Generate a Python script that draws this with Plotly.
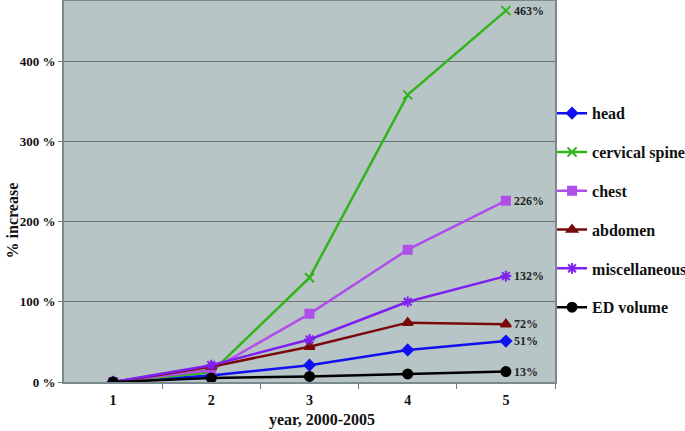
import plotly.graph_objects as go

years = [1, 2, 3, 4, 5]
year_labels = ["1", "2", "3", "4", "5"]
head = [0, 8, 21, 40, 51]
cervical_spine = [0, 12, 130, 358, 463]
chest = [0, 15, 85, 165, 226]
abdomen = [0, 19, 44, 74, 72]
miscellaneous = [0, 21, 53, 100, 132]
ed_volume = [0, 5, 7, 10, 13]
end_labels = ["51%", "463%", "226%", "72%", "132%", "13%"]

SERIF = "Liberation Serif, Times New Roman, serif"

series = [
    ("head", head, "#1010f0", "diamond", 8),
    ("cervical spine", cervical_spine, "#33b41a", "x-thin-open", 9),
    ("chest", chest, "#b04fe8", "square", 8),
    ("abdomen", abdomen, "#7a0a0a", "triangle-up", 9),
    ("miscellaneous", miscellaneous, "#8020f0", "asterisk-open", 9),
    ("ED volume", ed_volume, "#000000", "circle", 9),
]

fig = go.Figure()
for i, (name, vals, color, sym, sz) in enumerate(series):
    fig.add_trace(go.Scatter(
        x=years, y=vals, name="<b>" + name + "</b>", mode="lines+markers",
        line=dict(color=color, width=2.5),
        marker=dict(symbol=sym, size=sz, color=color,
                    line=dict(color=color, width=2)),
        legendgroup=name,
    ))
    fig.add_annotation(x=years[-1], y=vals[-1], text="<b>" + end_labels[i] + "</b>",
                       showarrow=False, xanchor="left", xshift=6,
                       font=dict(family=SERIF, size=12, color="#222"))

# axis titles (placed as in the reference, slightly off-center)
fig.add_annotation(text="<b>year, 2000-2005</b>", xref="paper", yref="paper",
                   x=0.525, y=0, xanchor="center", yanchor="top", yshift=-27,
                   showarrow=False, font=dict(family=SERIF, size=16, color="#111"))
fig.add_annotation(text="<b>% increase</b>", xref="paper", yref="paper",
                   x=0, y=0.424, xanchor="center", yanchor="middle", xshift=-52,
                   textangle=-90, showarrow=False,
                   font=dict(family=SERIF, size=16, color="#111"))

fig.update_layout(
    width=685, height=431,
    margin=dict(l=64, r=130, t=1, b=49, autoexpand=False),
    paper_bgcolor="white",
    plot_bgcolor="#b7c5c7",
    font=dict(family=SERIF, color="#111"),
    showlegend=True,
    legend=dict(x=0.994, y=0.75, xanchor="left", yanchor="top",
                font=dict(family=SERIF, size=16, color="#111"),
                tracegroupgap=15, itemwidth=30, bgcolor="rgba(0,0,0,0)"),
)
fig.update_xaxes(
    range=[0.5, 5.5], tickvals=years,
    ticktext=["<b>" + t + "</b>" for t in year_labels],
    ticks="", showgrid=False, automargin=False, ticklabelstandoff=4,
    minor=dict(tickvals=[1.5, 2.5, 3.5, 4.5, 5.5], ticks="outside", ticklen=5,
               tickcolor="#777", showgrid=False),
    showline=True, linecolor="#7a8a8c", linewidth=2, mirror=True,
    tickfont=dict(family=SERIF, size=14, color="#111"),
)
fig.update_yaxes(
    range=[0, 475], tickvals=[0, 100, 200, 300, 400],
    ticktext=["<b>0 %</b>", "<b>100 %</b>", "<b>200 %</b>", "<b>300 %</b>", "<b>400 %</b>"],
    ticks="outside", ticklen=4, tickcolor="#777", automargin=False,
    showgrid=True, gridcolor="#6e7273", gridwidth=1, zeroline=False,
    showline=True, linecolor="#7a8a8c", linewidth=2, mirror=True,
    tickfont=dict(family=SERIF, size=13, color="#111"),
)
fig.write_html("out.html", config={"displayModeBar": False},
               post_script="document.body.style.margin='0';document.body.style.overflow='hidden';")
